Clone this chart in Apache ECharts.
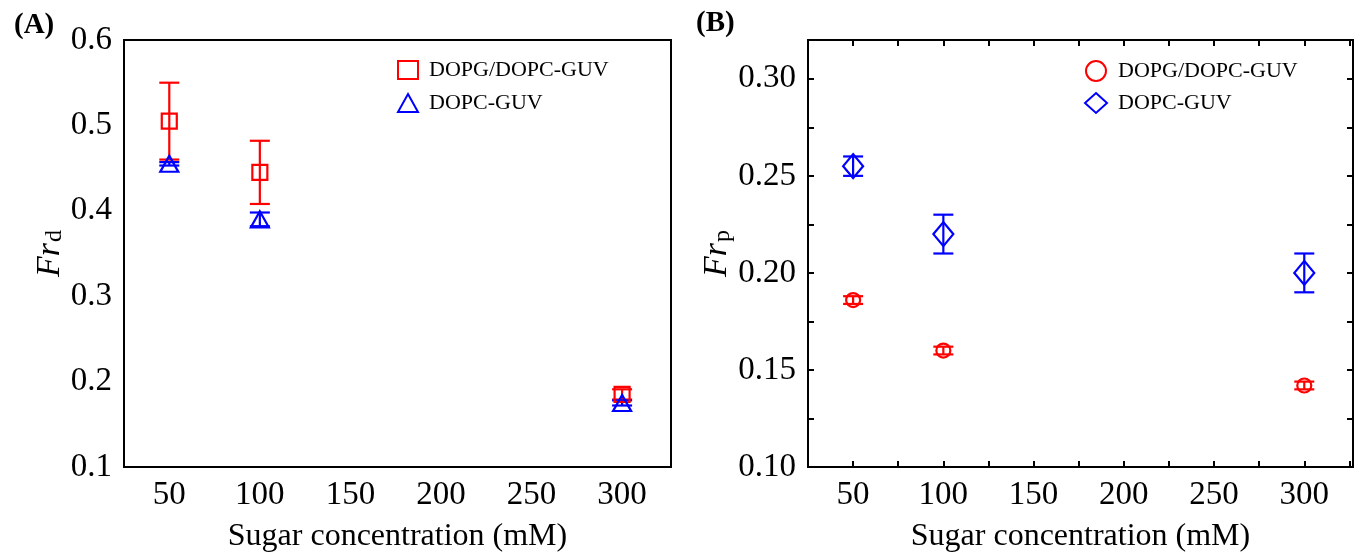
<!DOCTYPE html>
<html>
<head>
<meta charset="utf-8">
<script src="https://cdn.jsdelivr.net/npm/echarts@6/dist/echarts.min.js"></script>
<style>
  html, body { margin: 0; padding: 0; background: #fff; }
  #main { width: 1363px; height: 554px; }
</style>
</head>
<body>
<div id="main"></div>
<script>
// data
var conc = [50, 100, 300];
var xLabels = [50, 100, 150, 200, 250, 300];

// (A) Fr_d
var frdMixed = [0.505, 0.445, 0.185];
var frdMixedErr = [0.045, 0.037, 0.006];
var frdPC = [0.455, 0.390, 0.175];
var frdPCErr = [0.002, 0.008, 0.003];
var yLabelsA = [0.1, 0.2, 0.3, 0.4, 0.5, 0.6];

// (B) Fr_p
var frpMixed = [0.186, 0.160, 0.142];
var frpMixedErr = [0.002, 0.002, 0.002];
var frpPC = [0.255, 0.220, 0.200];
var frpPCErr = [0.005, 0.010, 0.010];
var yLabelsB = [0.10, 0.15, 0.20, 0.25, 0.30];

var RED = '#ff0000';
var BLUE = '#0000ff';
var FONT = 'Liberation Serif';

function pts(ys) {
    return conc.map(function (x, i) { return [x, ys[i]]; });
}
function errPts(ys, es) {
    return conc.map(function (x, i) { return [x, ys[i] - es[i], ys[i] + es[i]]; });
}

// error bars drawn through the axis scales
function errorBars(name, idx, ys, es, color) {
    return {
        name: name,
        type: 'custom',
        xAxisIndex: idx,
        yAxisIndex: idx,
        z: 1,
        silent: true,
        data: errPts(ys, es),
        renderItem: function (params, api) {
            var lo = api.coord([api.value(0), api.value(1)]);
            var hi = api.coord([api.value(0), api.value(2)]);
            var w = 10;
            var st = { stroke: color, lineWidth: 2.2 };
            return {
                type: 'group',
                children: [
                    { type: 'line', shape: { x1: lo[0], y1: lo[1], x2: hi[0], y2: hi[1] }, style: st },
                    { type: 'line', shape: { x1: lo[0] - w, y1: lo[1], x2: lo[0] + w, y2: lo[1] }, style: st },
                    { type: 'line', shape: { x1: hi[0] - w, y1: hi[1], x2: hi[0] + w, y2: hi[1] }, style: st }
                ]
            };
        }
    };
}

function marks(name, idx, ys, symbol, size, color) {
    return {
        name: name,
        type: 'scatter',
        xAxisIndex: idx,
        yAxisIndex: idx,
        z: 3,
        symbol: symbol,
        symbolSize: size,
        itemStyle: { color: 'rgba(255,255,255,0)', borderColor: color, borderWidth: 2.2, opacity: 1 },
        data: pts(ys)
    };
}

var lineStyle = { color: '#000', width: 2 };

var myChart = echarts.init(document.getElementById('main'));

var option = {
    animation: false,
    textStyle: { fontFamily: FONT },
    title: [
        { text: '(A)', left: 9, top: 6, textStyle: { fontFamily: FONT, fontWeight: 'bold', fontSize: 29, color: '#000' } },
        { text: '(B)', left: 691, top: 4, textStyle: { fontFamily: FONT, fontWeight: 'bold', fontSize: 29, color: '#000' } }
    ],
    legend: [
        {
            data: ['DOPG/DOPC-GUV A', 'DOPC-GUV A'],
            orient: 'vertical',
            left: 392, top: 54,
            itemWidth: 20, itemHeight: 18, itemGap: 11,
            formatter: function (n) { return n.replace(' A', ''); },
            textStyle: { fontFamily: FONT, fontSize: 22, color: '#000', padding: [0, 0, 0, 6] }
        },
        {
            data: ['DOPG/DOPC-GUV B', 'DOPC-GUV B'],
            orient: 'vertical',
            left: 1079, top: 55,
            itemWidth: 22, itemHeight: 20, itemGap: 10,
            formatter: function (n) { return n.replace(' B', ''); },
            textStyle: { fontFamily: FONT, fontSize: 22, color: '#000', padding: [0, 0, 0, 6] }
        }
    ],
    grid: [
        { left: 124, right: 1363 - 671, top: 40, bottom: 554 - 467, outerBoundsMode: 'none', show: true, borderColor: '#000', borderWidth: 2 },
        { left: 808, right: 10, top: 40, bottom: 554 - 467, outerBoundsMode: 'none', show: true, borderColor: '#000', borderWidth: 2 }
    ],
    xAxis: [
        {
            gridIndex: 0, type: 'value', min: 25, max: 327, interval: 25,
            splitLine: { show: false },
            axisLine: { lineStyle: lineStyle },
            axisTick: { show: false },
            axisLabel: { customValues: xLabels, fontSize: 33, color: '#000', margin: 12 },
            name: 'Sugar concentration (mM)', nameLocation: 'middle', nameGap: 54,
            nameTextStyle: { fontFamily: FONT, fontSize: 32, color: '#000' }
        },
        {
            gridIndex: 1, type: 'value', min: 25, max: 327, interval: 25,
            splitLine: { show: false },
            axisLine: { lineStyle: lineStyle },
            axisTick: { inside: true, length: 6, lineStyle: lineStyle },
            axisLabel: { customValues: xLabels, fontSize: 33, color: '#000', margin: 12 },
            name: 'Sugar concentration (mM)', nameLocation: 'middle', nameGap: 54,
            nameTextStyle: { fontFamily: FONT, fontSize: 32, color: '#000' }
        },
        {
            gridIndex: 1, type: 'value', position: 'top', min: 25, max: 327, interval: 25,
            splitLine: { show: false },
            axisLine: { lineStyle: lineStyle },
            axisTick: { inside: true, length: 6, lineStyle: lineStyle },
            axisLabel: { show: false }
        }
    ],
    yAxis: [
        {
            gridIndex: 0, type: 'value', min: 0.1, max: 0.6, interval: 0.1,
            splitLine: { show: false },
            axisLine: { lineStyle: lineStyle },
            axisTick: { show: false },
            axisLabel: {
                customValues: yLabelsA, fontSize: 33, color: '#000', margin: 12,
                formatter: function (v) { return v.toFixed(1); }
            },
            name: '{i|Fr}{s|d}', nameLocation: 'middle', nameGap: 50, nameRotate: 90,
            nameTextStyle: {
                rich: {
                    i: { fontFamily: FONT, fontStyle: 'italic', fontSize: 34, color: '#000' },
                    s: { fontFamily: FONT, fontSize: 24, color: '#000', padding: [10, 0, 0, 1] }
                }
            }
        },
        {
            gridIndex: 1, type: 'value', min: 0.1, max: 0.32, interval: 0.025,
            splitLine: { show: false },
            axisLine: { lineStyle: lineStyle },
            axisTick: { inside: true, length: 6, lineStyle: lineStyle },
            axisLabel: {
                customValues: yLabelsB, fontSize: 33, color: '#000', margin: 12,
                formatter: function (v) { return v.toFixed(2); }
            },
            name: '{i|Fr}{s|p}', nameLocation: 'middle', nameGap: 71, nameRotate: 90,
            nameTextStyle: {
                rich: {
                    i: { fontFamily: FONT, fontStyle: 'italic', fontSize: 34, color: '#000' },
                    s: { fontFamily: FONT, fontSize: 24, color: '#000', padding: [10, 0, 0, 1] }
                }
            }
        },
        {
            gridIndex: 1, type: 'value', position: 'right', min: 0.1, max: 0.32, interval: 0.025,
            splitLine: { show: false },
            axisLine: { lineStyle: lineStyle },
            axisTick: { inside: true, length: 6, lineStyle: lineStyle },
            axisLabel: { show: false }
        }
    ],
    series: [
        errorBars('errA1', 0, frdMixed, frdMixedErr, RED),
        errorBars('errA2', 0, frdPC, frdPCErr, BLUE),
        marks('DOPG/DOPC-GUV A', 0, frdMixed, 'rect', 15, RED),
        marks('DOPC-GUV A', 0, frdPC, 'triangle', [18, 16], BLUE),
        errorBars('errB1', 1, frpMixed, frpMixedErr, RED),
        errorBars('errB2', 1, frpPC, frpPCErr, BLUE),
        marks('DOPG/DOPC-GUV B', 1, frpMixed, 'circle', 14, RED),
        marks('DOPC-GUV B', 1, frpPC, 'diamond', [20, 24], BLUE)
    ]
};

myChart.setOption(option);
</script>
</body>
</html>
